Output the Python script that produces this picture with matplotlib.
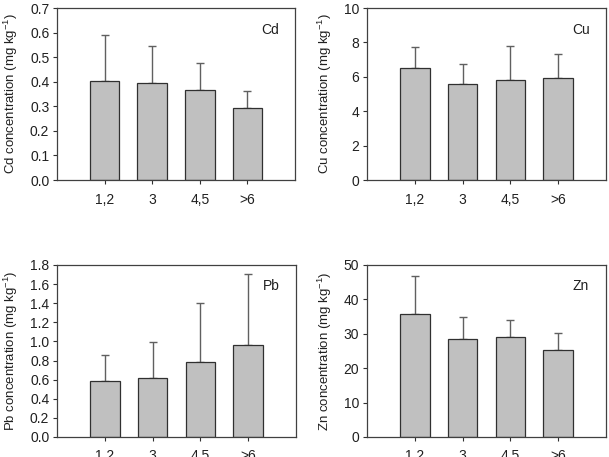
import matplotlib
matplotlib.use("Agg")
import matplotlib.pyplot as plt

plt.rcParams['font.family'] = ['Liberation Sans', 'DejaVu Sans']

categories = ["1,2", "3", "4,5", ">6"]

cd_mean = [0.404, 0.396, 0.367, 0.292]
cd_err = [0.187, 0.150, 0.109, 0.072]
cu_mean = [6.49, 5.57, 5.79, 5.92]
cu_err = [1.22, 1.17, 2.00, 1.42]
pb_mean = [0.584, 0.622, 0.786, 0.958]
pb_err = [0.279, 0.371, 0.612, 0.744]
zn_mean = [35.9, 28.4, 29.0, 25.4]
zn_err = [11.0, 6.6, 5.0, 4.9]

panels = [
    ("Cd", cd_mean, cd_err, (0, 0.7), [0.0, 0.1, 0.2, 0.3, 0.4, 0.5, 0.6, 0.7], "{:.1f}"),
    ("Cu", cu_mean, cu_err, (0, 10), [0, 2, 4, 6, 8, 10], "{:.0f}"),
    ("Pb", pb_mean, pb_err, (0, 1.8), [0.0, 0.2, 0.4, 0.6, 0.8, 1.0, 1.2, 1.4, 1.6, 1.8], "{:.1f}"),
    ("Zn", zn_mean, zn_err, (0, 50), [0, 10, 20, 30, 40, 50], "{:.0f}"),
]

W, H = 609, 457
fig = plt.figure(figsize=(W / 100, H / 100), dpi=100)

rects = [
    (57, 8, 238, 172),
    (367, 8, 239, 172),
    (57, 265, 239, 172),
    (367, 265, 239, 172),
]

positions = [1, 2, 3, 4]
for (name, mean, err, ylim, yticks, fmt), (x0, y0, w, h) in zip(panels, rects):
    ax = fig.add_axes([x0 / W, 1 - (y0 + h) / H, w / W, h / H])
    ax.bar(positions, mean, width=0.62, color="#c0c0c0", edgecolor="#303030", linewidth=0.9, zorder=2)
    ax.errorbar(positions, mean, yerr=[[0] * len(err), err], fmt="none",
                ecolor="#606060", elinewidth=1.0, capsize=2.8, capthick=1.0, zorder=1)
    ax.set_xlim(0, 5)
    ax.set_ylim(*ylim)
    ax.set_yticks(yticks)
    ax.set_yticklabels([fmt.format(v) for v in yticks])
    ax.set_xticks(positions)
    ax.set_xticklabels(categories)
    ax.tick_params(axis="both", direction="out", length=3, width=0.8, colors="#303030",
                   labelsize=10, labelcolor="#202020")
    ax.tick_params(axis="x", pad=6)
    ax.tick_params(axis="y", pad=2.5)
    for sp in ax.spines.values():
        sp.set_color("#404040")
        sp.set_linewidth(0.9)
    ax.set_ylabel(name + r" concentration (mg kg$^{\mathregular{-1}}$)", fontsize=9.5,
                  labelpad=7, color="#202020")
    ax.text(0.895, 0.875, name, transform=ax.transAxes, ha="center", va="center",
            fontsize=10, color="#202020")

fig.savefig("out.png", dpi=100)
